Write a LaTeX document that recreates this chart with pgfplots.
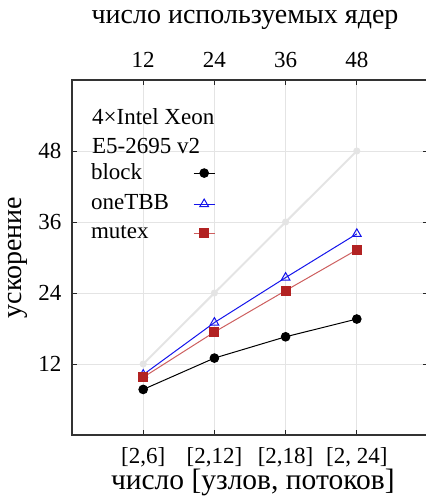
\documentclass[border=0pt]{standalone}
\usepackage{fontspec}
\setmainfont{Liberation Serif}
\usepackage{pgfplots}
\pgfplotsset{compat=1.18}
\usetikzlibrary{calc}
\definecolor{mred}{RGB}{178,34,34}
\definecolor{mredline}{RGB}{205,95,95}
\definecolor{tbb}{RGB}{20,20,235}
\definecolor{ideal}{RGB}{228,228,228}
\begin{document}
\fontsize{23}{27}\selectfont
\begin{tikzpicture}
\pgfplotsset{
  every axis/.append style={
    scale only axis, width=356pt, height=355pt,
    xmin=0, xmax=5, ymin=0, ymax=60,
    /pgf/number format/assume math mode=true,
    tick label style={font=\fontsize{23}{27}\selectfont},
    label style={font=\fontsize{28}{32}\selectfont},
    axis line style={line width=1.3pt, draw=black!80},
    tick style={line width=1pt, draw=black!85},
    major tick length=5pt,
    tick align=inside,
  }
}
\begin{axis}[
  name=main,
  xtick={1,2,3,4},
  xticklabels={{[2,6]},{[2,12]},{[2,18]},{[2, 24]}},
  xticklabel pos=bottom,
  xticklabel style={anchor=center, yshift=-22pt},
  ytick={12,24,36,48},
  yticklabel pos=left,
  yticklabel style={anchor=center, xshift=-22pt},
  xtick pos=both, ytick pos=both,
  grid=major,
  grid style={draw=ideal, line width=1pt},
  xlabel={число [узлов, потоков]},
  xlabel style={at={(rel axis cs:0.508,-0.1324)}, anchor=center, font=\fontsize{29.5}{33}\selectfont},
  ylabel={ускорение},
  ylabel style={at={(rel axis cs:-0.152,0.5)}, anchor=center},
  legend style={draw=none, fill=none, at={(rel axis cs:0.039,0.777)}, anchor=north west,
    font=\fontsize{23}{27}\selectfont, row sep=8pt, column sep=22pt},
  legend cell align=left,
  legend plot pos=right,
  legend image code/.code={\draw[mark repeat=2,mark phase=2] plot coordinates {(0cm,0cm)(0.375cm,0cm)(0.75cm,0cm)};},
]
\addplot[ideal, line width=2pt, mark=*, mark size=2.5pt, mark options={fill=ideal, draw=ideal}, forget plot]
  coordinates {(1,12)(2,24)(3,36)(4,48)};
\addplot[black, line width=1pt, mark=*, mark size=4.3pt, mark options={fill=black}]
  coordinates {(1,7.7)(2,13.0)(3,16.6)(4,19.6)};
\addlegendentry{block}
\addplot[tbb, line width=1pt, mark=triangle, mark size=5pt, mark options={draw=tbb, line width=1pt}]
  coordinates {(1,10.2)(2,19.0)(3,26.6)(4,34.0)};
\addlegendentry{oneTBB}
\addplot[mredline, line width=1pt, mark=square*, mark size=4.5pt, mark options={fill=mred, draw=mred}]
  coordinates {(1,9.75)(2,17.4)(3,24.4)(4,31.3)};
\addlegendentry{mutex}
\node[anchor=north west, align=left, inner sep=0pt, font=\fontsize{23}{29}\selectfont]
  at (rel axis cs:0.056,0.919) {4×Intel Xeon\\E5-2695 v2};
\end{axis}
\begin{axis}[
  axis x line*=top, axis y line=none,
  xtick={1,2,3,4},
  xticklabels={12,24,36,48},
  xticklabel style={anchor=center, yshift=20pt},
  xlabel={число используемых ядер},
  xlabel style={at={(rel axis cs:0.486,1.169)}, anchor=center},
]
\end{axis}
\pgfresetboundingbox
\useasboundingbox ($(main.south west)+(-72pt,-69pt)$) rectangle ($(main.south west)+(354pt,435pt)$);
\end{tikzpicture}
\end{document}
